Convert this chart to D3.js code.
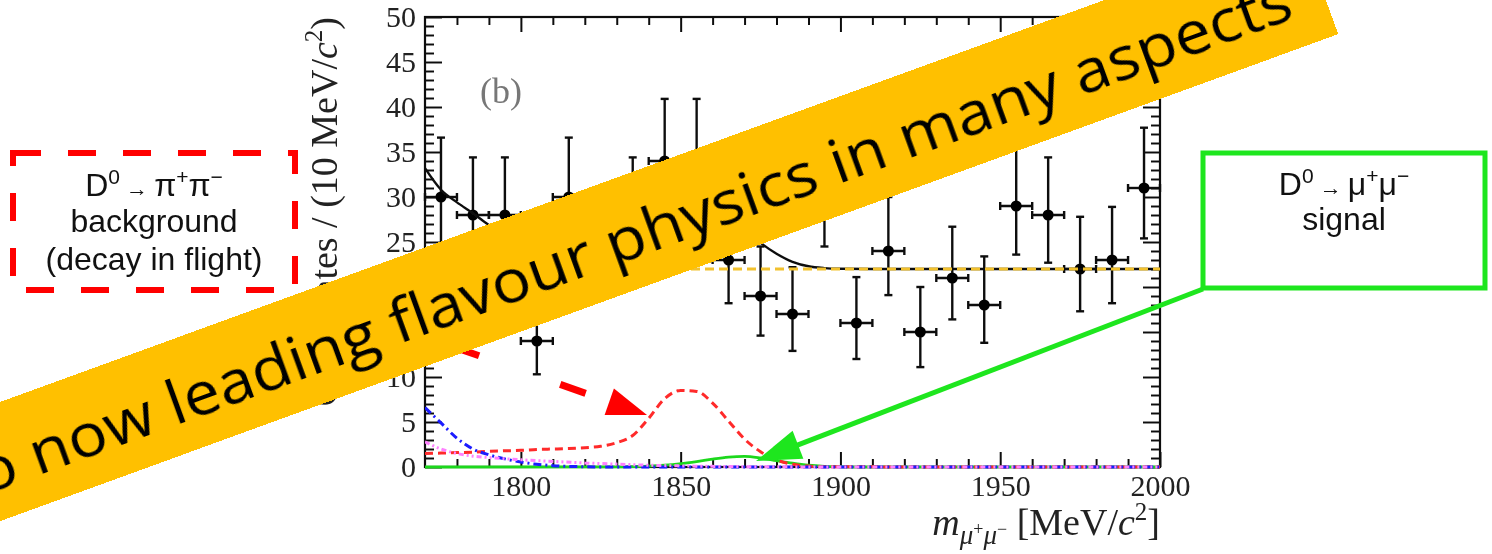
<!DOCTYPE html>
<html>
<head>
<meta charset="utf-8">
<script src="https://cdn.jsdelivr.net/npm/d3@7"></script>
<style>
  body { margin: 0; background: #fff; }
  svg { display: block; }
</style>
</head>
<body>
<svg id="chart" width="1492" height="554"></svg>
<script>
// ---- data: D0 -> mu+ mu- candidates, 10 MeV/c^2 bins ----
const binCenters = [1775,1785,1795,1805,1815,1825,1835,1845,1855,1865,1875,1885,1895,1905,1915,1925,1935,1945,1955,1965,1975,1985,1995];
const counts     = [30,28,28,14,30,24,28,34,34,23,19,17,30,16,24,15,21,18,29,28,22,23,31];
const errLow     = [5.5,5.3,5.3,3.7,5.5,4.9,5.3,5.8,5.8,4.8,4.4,4.1,5.5,4.0,4.9,3.9,4.6,4.2,5.4,5.3,4.7,4.8,5.6];
const errHigh    = [6.6,6.4,6.4,4.9,6.6,6.0,6.4,6.9,6.9,5.9,5.5,5.2,6.6,5.1,6.0,5.0,5.7,5.4,6.5,6.4,5.8,5.9,6.7];
const binHalfWidth = 5;

// ---- fit model curves ----
const totalMass = [1770,1775,1780,1785,1790,1795,1800,1805,1810,1815,1820,1825,1830,1835,1840,1845,1850,1855,1860,1865,1870,1875,1880,1885,1890,1895,1900,1910,2000];
const totalVals = [33.2,30.8,29.4,28.2,26.9,26.0,25.5,25.2,24.9,24.7,24.6,24.7,25.0,25.7,27.7,30.0,31.0,31.0,30.0,28.3,26.4,24.9,23.7,22.8,22.3,22.1,22.03,22.0,22.0];

const combMass = [1770, 2000];
const combVals = [22.0, 22.0];

const pipiMass = [1770,1775,1780,1785,1790,1795,1800,1805,1810,1815,1820,1825,1830,1835,1840,1845,1850,1855,1860,1865,1870,1875,1880,1885,1890,1895,2000];
const pipiVals = [1.5,1.55,1.6,1.65,1.75,1.8,1.85,1.95,2.0,2.05,2.15,2.3,2.7,3.5,5.4,7.6,8.5,8.4,7.1,5.1,3.1,1.7,0.8,0.3,0.1,0.02,0];

const blueMass = [1770,1775,1780,1785,1790,1795,1800,1805,1810,1815,1820,1830,2000];
const blueVals = [6.6,4.9,3.2,2.0,1.35,0.9,0.55,0.3,0.15,0.07,0.03,0,0];

const pinkMass = [1770,1775,1780,1785,1790,1795,1800,1810,1820,1830,1840,1850,1860,1870,1880,1900,2000];
const pinkVals = [2.8,2.0,1.5,1.2,1.05,0.92,0.8,0.62,0.45,0.32,0.2,0.12,0.07,0.04,0.02,0,0];

const sigMass = [1770,1830,1835,1840,1845,1850,1855,1860,1865,1870,1875,1880,1885,1890,1895,1900,1905,2000];
const sigVals = [0,0.02,0.05,0.1,0.2,0.36,0.6,0.88,1.1,1.18,1.0,0.7,0.42,0.2,0.08,0.03,0,0];

// ---- axis ticks ----
const xMajorTicks = [1800, 1850, 1900, 1950, 2000];
const yMajorTicks = [0, 5, 10, 15, 20, 25, 30, 35, 40, 45, 50];

// ---- annotations ----
const pipiLines = ["background", "(decay in flight)"];
const sigLines = ["signal"];
const bannerText = "o now leading flavour physics in many aspects";

const svg = d3.select("#chart");
svg.append("rect").attr("width", 1492).attr("height", 554).attr("fill", "#fff");

const defs = svg.append("defs");
defs.append("filter").attr("id", "soft")
  .attr("x", "-5%").attr("y", "-5%").attr("width", "110%").attr("height", "110%")
  .append("feGaussianBlur").attr("stdDeviation", 0.45);
defs.append("clipPath").attr("id", "plotClip")
  .append("rect").attr("x", 425).attr("y", 15).attr("width", 735).attr("height", 455);

const x = d3.scaleLinear().domain([1770, 2000]).range([425, 1160]);
const y = d3.scaleLinear().domain([0, 50]).range([467, 17]);

const plot = svg.append("g").attr("filter", "url(#soft)");
const serif = "'Liberation Serif', 'Times New Roman', serif";

// axes with inward ticks
function styleAxis(g) {
  g.select(".domain").remove();
  g.selectAll(".tick line").attr("stroke", "#111").attr("stroke-width", 2);
  g.selectAll(".tick text").attr("font-family", serif).attr("font-size", 30).attr("fill", "#222");
}
const xMinor = d3.range(1780, 2000, 10).filter(v => !xMajorTicks.includes(v));
const yMinor = d3.range(1, 50, 1).filter(v => v % 5 !== 0);

plot.append("g").attr("transform", "translate(0,467)")
  .call(d3.axisBottom(x).tickValues(xMajorTicks).tickSize(-15).tickPadding(8).tickFormat(d3.format("d")))
  .call(styleAxis);
plot.append("g").attr("transform", "translate(0,467)")
  .call(d3.axisBottom(x).tickValues(xMinor).tickSize(-8).tickFormat(""))
  .call(styleAxis);
plot.append("g").attr("transform", "translate(0,17)")
  .call(d3.axisTop(x).tickValues(xMajorTicks).tickSize(-15).tickFormat(""))
  .call(styleAxis);
plot.append("g").attr("transform", "translate(0,17)")
  .call(d3.axisTop(x).tickValues(xMinor).tickSize(-8).tickFormat(""))
  .call(styleAxis);
plot.append("g").attr("transform", "translate(425,0)")
  .call(d3.axisLeft(y).tickValues(yMajorTicks).tickSize(-17).tickPadding(9))
  .call(styleAxis);
plot.append("g").attr("transform", "translate(425,0)")
  .call(d3.axisLeft(y).tickValues(yMinor).tickSize(-9).tickFormat(""))
  .call(styleAxis);
plot.append("g").attr("transform", "translate(1160,0)")
  .call(d3.axisRight(y).tickValues(yMajorTicks).tickSize(-17).tickFormat(""))
  .call(styleAxis);
plot.append("g").attr("transform", "translate(1160,0)")
  .call(d3.axisRight(y).tickValues(yMinor).tickSize(-9).tickFormat(""))
  .call(styleAxis);

// frame
plot.append("rect")
  .attr("x", x(1770)).attr("y", y(50))
  .attr("width", x(2000) - x(1770)).attr("height", y(0) - y(50))
  .attr("fill", "none").attr("stroke", "#111").attr("stroke-width", 2.2);

// data points with error bars
const pts = plot.append("g").attr("stroke", "#111").attr("stroke-width", 2.4);
binCenters.forEach((m, i) => {
  const cx = x(m), cy = y(counts[i]);
  const yLo = y(counts[i] - errLow[i]), yHi = y(counts[i] + errHigh[i]);
  const xl = x(m - binHalfWidth), xr = x(m + binHalfWidth);
  pts.append("line").attr("x1", cx).attr("x2", cx).attr("y1", yLo).attr("y2", yHi);
  pts.append("line").attr("x1", cx - 4).attr("x2", cx + 4).attr("y1", yLo).attr("y2", yLo);
  pts.append("line").attr("x1", cx - 4).attr("x2", cx + 4).attr("y1", yHi).attr("y2", yHi);
  pts.append("line").attr("x1", xl).attr("x2", xr).attr("y1", cy).attr("y2", cy);
  pts.append("line").attr("x1", xl).attr("x2", xl).attr("y1", cy - 4).attr("y2", cy + 4);
  pts.append("line").attr("x1", xr).attr("x2", xr).attr("y1", cy - 4).attr("y2", cy + 4);
  pts.append("circle").attr("cx", cx).attr("cy", cy).attr("r", 5.5).attr("fill", "#000").attr("stroke", "none");
});

// model curves
const line = d3.line().x(d => x(d[0])).y(d => y(d[1])).curve(d3.curveMonotoneX);
const curves = plot.append("g").attr("clip-path", "url(#plotClip)").attr("fill", "none");
function curve(mass, vals, color, width, dash) {
  const p = curves.append("path").datum(d3.zip(mass, vals))
    .attr("d", line).attr("stroke", color).attr("stroke-width", width);
  if (dash) p.attr("stroke-dasharray", dash);
}
curve(totalMass, totalVals, "#111", 2.4, null);
curve(combMass, combVals, "#f2c12e", 3, "9,5");
curve(sigMass, sigVals, "#1fd81f", 2.8, null);
curve(pipiMass, pipiVals, "#ff2a2a", 3, "8,5");
curve(blueMass, blueVals, "#1a1aff", 3, "8,4,2,4");
curve(pinkMass, pinkVals, "#ff80ff", 3, "5,3,2,3,2,3");

// panel tag
plot.append("text").attr("x", 480).attr("y", 103)
  .attr("font-family", serif).attr("font-size", 36).attr("fill", "#777").text("(b)");

// y-axis title
const yTitle = plot.append("text")
  .attr("transform", "translate(337,17) rotate(-90)")
  .attr("text-anchor", "end").attr("font-family", serif).attr("font-size", 38).attr("fill", "#222");
yTitle.append("tspan").text("Candidates / (10 MeV/");
yTitle.append("tspan").attr("font-style", "italic").text("c");
yTitle.append("tspan").attr("font-size", 25).attr("dy", -15).text("2");
yTitle.append("tspan").attr("dy", 15).text(")");

// x-axis title
const xTitle = plot.append("text")
  .attr("x", 1160).attr("y", 535)
  .attr("text-anchor", "end").attr("font-family", serif).attr("font-size", 38).attr("fill", "#222");
xTitle.append("tspan").attr("font-style", "italic").text("m");
xTitle.append("tspan").attr("font-style", "italic").attr("font-size", 27).attr("dy", 9).text("μ");
xTitle.append("tspan").attr("font-size", 18).attr("dy", -9).text("+");
xTitle.append("tspan").attr("font-style", "italic").attr("font-size", 27).attr("dy", 9).text("μ");
xTitle.append("tspan").attr("font-size", 18).attr("dy", -9).text("−");
xTitle.append("tspan").text(" [MeV/");
xTitle.append("tspan").attr("font-style", "italic").text("c");
xTitle.append("tspan").attr("font-size", 25).attr("dy", -15).text("2");
xTitle.append("tspan").attr("dy", 15).text("]");

// ---- annotation boxes and arrows ----
const sans = "'Liberation Sans', Arial, sans-serif";
const notes = svg.append("g");

function decayLabel(g, cx, cy, daughter) {
  const t = g.append("text").attr("x", cx).attr("y", cy).attr("text-anchor", "middle")
    .attr("font-family", sans).attr("font-size", 32).attr("fill", "#111");
  t.append("tspan").text("D");
  t.append("tspan").attr("font-size", 21).attr("dy", -12).text("0");
  t.append("tspan").attr("font-size", 22).attr("dy", 12).text(" → ");
  t.append("tspan").attr("font-size", 32).text(daughter);
  t.append("tspan").attr("font-size", 21).attr("dy", -12).text("+");
  t.append("tspan").attr("font-size", 32).attr("dy", 12).text(daughter);
  t.append("tspan").attr("font-size", 21).attr("dy", -12).text("−");
}

// pi pi misidentified background
notes.append("rect").attr("x", 13).attr("y", 153).attr("width", 282).attr("height", 137)
  .attr("fill", "none").attr("stroke", "#ff0000").attr("stroke-width", 6).attr("stroke-dasharray", "28,27");
decayLabel(notes, 154, 196, "π");
pipiLines.forEach((s, i) => {
  notes.append("text").attr("x", 154).attr("y", 232 + i * 38).attr("text-anchor", "middle")
    .attr("font-family", sans).attr("font-size", 32).attr("fill", "#111").text(s);
});

// signal box
notes.append("rect").attr("x", 1203).attr("y", 153).attr("width", 282).attr("height", 135)
  .attr("fill", "none").attr("stroke", "#1ee61e").attr("stroke-width", 5);
decayLabel(notes, 1344, 195, "μ");
sigLines.forEach((s, i) => {
  notes.append("text").attr("x", 1344).attr("y", 230 + i * 38).attr("text-anchor", "middle")
    .attr("font-family", sans).attr("font-size", 32).attr("fill", "#111").text(s);
});

function arrow(g, sx, sy, tx, ty, color, width, headLen, headHalf, dash, dashOffset) {
  const dx = tx - sx, dy = ty - sy, L = Math.hypot(dx, dy);
  const ux = dx / L, uy = dy / L, nx = -uy, ny = ux;
  const bx = tx - headLen * ux, by = ty - headLen * uy;
  const ln = g.append("line").attr("x1", sx).attr("y1", sy)
    .attr("x2", bx + 2 * ux).attr("y2", by + 2 * uy)
    .attr("stroke", color).attr("stroke-width", width);
  if (dash) ln.attr("stroke-dasharray", dash).attr("stroke-dashoffset", dashOffset);
  g.append("path")
    .attr("d", `M${tx},${ty}L${bx + headHalf * nx},${by + headHalf * ny}L${bx - headHalf * nx},${by - headHalf * ny}Z`)
    .attr("fill", color);
}
arrow(notes, 1203, 289, 756, 461, "#1ee61e", 5, 45, 15, null, 0);
arrow(notes, 298, 292, 647, 415, "#ff0000", 7, 40, 14, "27,86", 61);

// ---- slogan banner ----
const banner = svg.append("g").attr("transform", "translate(760,185) rotate(-20)");
banner.append("rect").attr("x", -900).attr("y", -56).attr("width", 1495).attr("height", 112).attr("fill", "#ffc000");
banner.append("text").attr("x", -834).attr("y", 26)
  .attr("font-family", "'Open Sans', 'Noto Sans', sans-serif").attr("font-size", 61).attr("fill", "#000")
  .attr("textLength", 1395).attr("lengthAdjust", "spacingAndGlyphs")
  .text(bannerText);
</script>
</body>
</html>
